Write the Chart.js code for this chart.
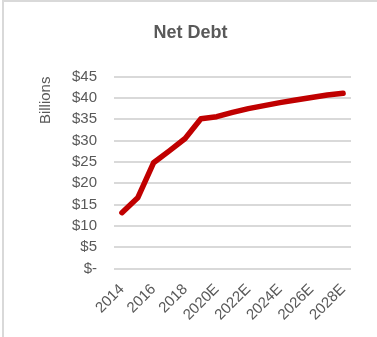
<!DOCTYPE html>
<html>
<head>
<meta charset="utf-8">
<script src="https://cdn.jsdelivr.net/npm/chart.js@4"></script>
<style>
  html, body { margin: 0; padding: 0; background: #fff; }
  #wrap { position: relative; width: 377px; height: 337px; }
  #frame { position: absolute; left: 2px; top: 0; width: 375px; height: 337px;
           border-left: 2px solid #d9d9d9; border-top: 2px solid #d9d9d9; box-sizing: border-box; }
  canvas { position: absolute; left: 0; top: 0; }
</style>
</head>
<body>
<div id="wrap">
  <div id="frame"></div>
  <canvas id="grafica" width="377" height="337"></canvas>
</div>
<script>
// Datos
const years = ['2014', '2015', '2016', '2017', '2018', '2019',
  '2020E', '2021E', '2022E', '2023E', '2024E', '2025E', '2026E', '2027E', '2028E'];
const netDebt = [13.1, 16.6, 24.8, 27.6, 30.5, 35.1, 35.6, 36.6, 37.5, 38.2, 38.9, 39.5, 40.1, 40.7, 41.1];
const yTicks = [0, 5, 10, 15, 20, 25, 30, 35, 40, 45];

const gris = '#595959';
const fuente = 'Liberation Sans, Arial, sans-serif';

const ctx = document.getElementById('grafica').getContext('2d');
const myChart = new Chart(ctx, {
  type: 'line',
  data: {
    labels: years,
    datasets: [{
      label: 'Net Debt',
      data: netDebt,
      borderColor: '#c00000',
      backgroundColor: '#c00000',
      borderWidth: 5.5,
      borderCapStyle: 'round',
      borderJoinStyle: 'round',
      pointRadius: 0,
      tension: 0,
      fill: false
    }]
  },
  options: {
    responsive: false,
    animation: false,
    layout: { padding: { left: 30, right: 26, top: 18, bottom: 9 } },
    plugins: {
      legend: { display: false },
      tooltip: { enabled: false },
      title: {
        display: true,
        text: 'Net Debt',
        color: gris,
        font: { family: fuente, size: 18, weight: 'bold' },
        padding: { top: 4, bottom: 33 }
      }
    },
    scales: {
      x: {
        offset: true,
        grid: { display: false },
        border: { display: false },
        ticks: {
          autoSkip: false,
          maxRotation: 45,
          minRotation: 45,
          color: gris,
          font: { family: fuente, size: 15 },
          padding: 4,
          callback: function (val, i) { return i % 2 === 0 ? years[i] : ''; }
        }
      },
      y: {
        min: 0,
        max: 45,
        afterBuildTicks: axis => { axis.ticks = yTicks.map(v => ({ value: v })); },
        grid: { color: '#d9d9d9', lineWidth: 2, drawTicks: false },
        border: { display: false },
        title: {
          display: true,
          text: 'Billions',
          align: 'end',
          color: gris,
          font: { family: fuente, size: 15 },
          padding: { top: 7, bottom: 0 }
        },
        ticks: {
          autoSkip: false,
          color: gris,
          font: { family: fuente, size: 15 },
          padding: 17,
          callback: v => v === 0 ? '$-' : '$' + v
        }
      }
    }
  }
});
</script>
</body>
</html>
